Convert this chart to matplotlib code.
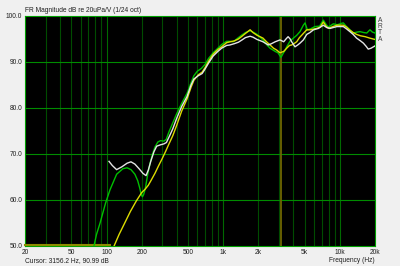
import matplotlib
matplotlib.use('Agg')
import matplotlib.pyplot as plt
import numpy as np

plt.rcParams['font.family'] = ['Liberation Sans', 'DejaVu Sans']

# ---- data (frequency in Hz, level in dB) ----
green_f = [78, 82, 88, 98, 107, 122, 138, 150, 162, 175, 185, 193, 198, 203, 208, 215, 225, 236,
           248, 260, 275, 290, 310, 325, 345, 370, 400, 440, 490, 530, 560, 600, 650, 700, 750,
           820, 900, 970, 1070, 1150, 1220, 1350, 1450, 1550, 1700, 1800, 1950, 2190, 2350, 2520,
           2790, 2950, 3130, 3250, 3400, 3500, 3750, 4000, 4265, 4550, 4864, 5030, 5260, 5600,
           6100, 6700, 7210, 7700, 8000, 8790, 9500, 10300, 10700, 11400, 12200, 13030, 14000,
           14900, 16000, 17000, 18100, 19000, 20000]
green_db = [50.0, 52.5, 55.0, 59.3, 62.2, 65.6, 66.8, 67.0, 66.6, 65.6, 64.2, 62.5, 61.2, 60.7,
            61.2, 62.5, 65.5, 68.0, 70.0, 71.5, 72.6, 72.9, 72.8, 73.2, 75.0, 76.8, 78.8, 81.0,
            83.2, 85.5, 87.0, 88.0, 88.6, 89.5, 90.8, 92.0, 93.0, 93.8, 94.5, 94.5, 94.4, 95.3,
            95.9, 96.4, 96.8, 96.5, 96.0, 94.8, 93.8, 93.0, 92.3, 92.0, 91.0, 91.8, 92.6, 93.3,
            94.6, 95.2, 95.8, 96.6, 98.0, 98.5, 97.0, 97.2, 97.7, 97.8, 99.1, 98.0, 97.6, 98.3,
            98.1, 98.4, 98.5, 97.7, 97.0, 96.3, 96.5, 96.6, 96.4, 96.3, 97.0, 96.5, 96.3]

yellow_flat_f = [20, 107]
yellow_flat_db = [50.2, 50.2]

yellow_f = [116, 128, 140, 160, 180, 200, 215, 228, 240, 260, 280, 300, 320, 340, 370, 400, 440,
            490, 530, 560, 610, 660, 700, 750, 820, 900, 970, 1070, 1150, 1250, 1350, 1450, 1550,
            1700, 1800, 1950, 2190, 2350, 2520, 2700, 2873, 3067, 3300, 3500, 3700, 3860, 4050,
            4265, 4500, 4700, 4900, 5200, 5600, 6300, 6800, 7210, 7600, 8000, 8700, 9440, 10700,
            11400, 12200, 13000, 13900, 15000, 16500, 18000, 20000]
yellow_db = [50.0, 52.5, 54.5, 57.5, 59.8, 61.6, 62.4, 63.2, 64.2, 65.8, 67.5, 69.0, 70.5, 72.0,
             74.0, 76.3, 79.3, 82.0, 84.5, 86.0, 87.2, 87.8, 88.8, 90.2, 91.7, 92.7, 93.3, 94.2,
             94.4, 94.6, 95.0, 95.6, 96.2, 97.0, 96.4, 95.8, 95.2, 94.4, 93.7, 93.0, 92.6, 92.0,
             92.3, 93.0, 93.6, 93.7, 94.0, 94.4, 95.3, 95.8, 96.3, 97.0, 97.0, 97.3, 97.6, 98.7,
             97.8, 97.3, 97.7, 98.0, 98.0, 97.6, 96.9, 96.4, 96.0, 95.7, 95.5, 95.2, 94.9]

white_f = [105, 112, 122, 135, 150, 162, 175, 190, 205, 218, 228, 240, 255, 269, 290, 310, 326,
           345, 370, 400, 440, 490, 530, 560, 610, 660, 700, 750, 820, 900, 970, 1070, 1140, 1250,
           1350, 1450, 1550, 1700, 1800, 1950, 2190, 2436, 2600, 2790, 3067, 3300, 3450, 3600,
           3750, 3860, 4124, 4350, 4550, 4864, 5200, 5540, 5940, 6550, 7210, 7700, 8250, 8800,
           9440, 10700, 11400, 12200, 13000, 13900, 15000, 15900, 16800, 17500, 18500, 20000]
white_db = [68.4, 67.5, 66.6, 67.2, 68.0, 68.3, 67.8, 66.8, 65.8, 65.3, 66.5, 68.5, 70.5, 71.7,
            72.0, 72.2, 72.5, 73.8, 75.5, 77.8, 80.3, 82.5, 85.0, 86.3, 87.0, 87.5, 88.5, 89.8,
            91.3, 92.3, 93.0, 93.6, 93.7, 94.0, 94.3, 94.8, 95.3, 95.6, 95.4, 94.9, 94.4, 93.7,
            94.0, 94.4, 94.8, 94.4, 95.0, 95.5, 95.0, 94.4, 93.3, 93.7, 94.1, 94.8, 96.0, 96.4,
            97.0, 97.3, 98.0, 97.5, 97.3, 97.5, 97.7, 97.7, 97.2, 96.6, 96.0, 95.2, 94.6, 94.1,
            93.4, 92.8, 93.0, 93.5]

cursor_f = 3156.2
y_ticks = [50, 60, 70, 80, 90, 100]
x_ticks = [20, 50, 100, 200, 500, 1000, 2000, 5000, 10000, 20000]
x_labels = ['20', '50', '100', '200', '500', '1k', '2k', '5k', '10k', '20k']

BG = '#f0f0f0'
fig = plt.figure(figsize=(4.0, 2.66), dpi=100, facecolor=BG)
ax = fig.add_axes([25 / 400, 1 - 246 / 266, 350 / 400, 230 / 266])
ax.set_facecolor('black')
ax.set_xscale('log')
ax.set_xlim(20, 20000)
ax.set_ylim(50, 100)

# grid
for dec in [10, 100, 1000, 10000]:
    for m in range(1, 10):
        f = dec * m
        if f <= 20 or f >= 20000:
            continue
        col = '#006a00' if m == 1 else '#004c00'
        ax.axvline(f, color=col, lw=0.8, zorder=1)
for y in y_ticks[1:-1]:
    ax.axhline(y, color='#008c00', lw=0.8, zorder=1)

ax.axvline(cursor_f, color='#6e6600', lw=1.3, zorder=2)

ax.plot(yellow_flat_f, yellow_flat_db, color='#8c8c00', lw=1.5, zorder=3, clip_on=False)
ax.plot(green_f, green_db, color='#00c000', lw=1.0, zorder=3)
ax.plot(yellow_f, yellow_db, color='#dcdc00', lw=1.0, zorder=4)
ax.plot(white_f, white_db, color='#e4e4e4', lw=1.0, zorder=5)

ax.set_xticks(x_ticks)
ax.set_xticklabels(x_labels)
ax.xaxis.set_minor_locator(matplotlib.ticker.NullLocator())
ax.set_yticks(y_ticks)
ax.set_yticklabels(['%.1f' % v for v in y_ticks])
ax.tick_params(length=0, labelsize=4.8, pad=2, colors='#202020')
for s in ax.spines.values():
    s.set_color('#00a000')
    s.set_linewidth(0.8)

fig.text(25 / 400, 1 - 12 / 266, 'FR Magnitude dB re 20uPa/V (1/24 oct)', fontsize=4.8,
         color='#202020', ha='left', va='baseline')
fig.text(25 / 400, 1 - 262 / 266, 'Cursor: 3156.2 Hz, 90.99 dB', fontsize=4.8,
         color='#202020', ha='left', va='baseline')
fig.text(375 / 400, 1 - 262 / 266, 'Frequency (Hz)', fontsize=4.8,
         color='#202020', ha='right', va='baseline')
for i, ch in enumerate('ARTA'):
    fig.text(380 / 400, 1 - (22 + i * 6.2) / 266, ch, fontsize=4.8, color='#404040',
             ha='center', va='baseline')

fig.savefig('out.png', dpi=100, facecolor=BG)
